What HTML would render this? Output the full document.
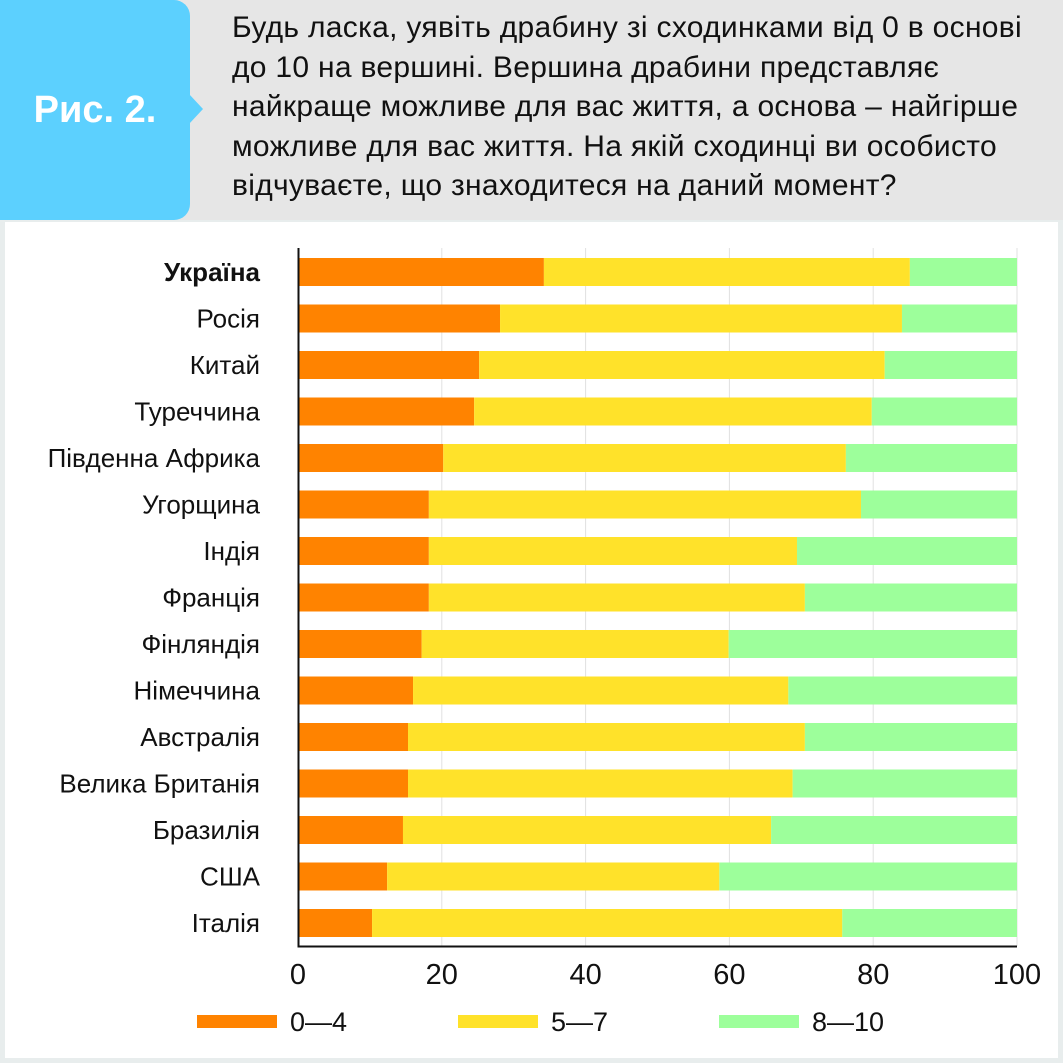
<!DOCTYPE html>
<html><head><meta charset="utf-8"><style>
body{margin:0;width:1063px;height:1063px;background:#e8eded;font-family:"Liberation Sans",sans-serif;position:relative;overflow:hidden}
#hdr{position:absolute;left:0;top:0;width:1063px;height:220px;background:#e6e6e6}
#fig{position:absolute;left:0;top:0;width:190px;height:220px;background:#5cd0fe;border-radius:0 16px 16px 0;color:#fff;font-weight:bold;font-size:38px;line-height:220px;text-align:center}
#tri{position:absolute;left:189px;top:94px;width:0;height:0;border-top:15px solid transparent;border-bottom:15px solid transparent;border-left:14px solid #5cd0fe}
#q{position:absolute;left:232px;top:8px;font-size:30px;line-height:39.5px;color:#111;white-space:nowrap;letter-spacing:0.3px}
#panel{position:absolute;left:5px;top:222px;width:1053px;height:836px;background:#fff}
</style></head><body>
<div id="hdr"></div>
<div id="fig">Рис. 2.</div>
<div id="tri"></div>
<div id="q">Будь ласка, уявіть драбину зі сходинками від 0 в основі<br>до 10 на вершині. Вершина драбини представляє<br>найкраще можливе для вас життя, а основа – найгірше<br>можливе для вас життя. На якій сходинці ви особисто<br>відчуваєте, що знаходитеся на даний момент?</div>
<div id="panel"></div>
<svg id="chart" width="1063" height="1063" style="position:absolute;left:0;top:0"></svg>
<script>
const categories=["Україна","Росія","Китай","Туреччина","Південна Африка","Угорщина","Індія","Франція","Фінляндія","Німеччина","Австралія","Велика Британія","Бразилія","США","Італія"];
const low=[34.2,28.1,25.2,24.5,20.2,18.2,18.2,18.2,17.2,16.0,15.3,15.3,14.6,12.4,10.3];
const mid=[50.9,55.9,56.4,55.3,56.0,60.1,51.2,52.3,42.7,52.2,55.2,53.5,51.2,46.2,65.4];
const high=[14.9,16.0,18.4,20.2,23.8,21.7,30.6,29.5,40.1,31.8,29.5,31.2,34.2,41.4,24.3];
const ticks=[0,20,40,60,80,100];
const seriesNames=["0—4","5—7","8—10"];
const colors=["#ff8300","#ffe22a","#9dff9b"];
const NS="http://www.w3.org/2000/svg";
const svg=document.getElementById('chart');
const x=v=>298+v*7.19;
const y=i=>258+i*46.5;
const bh=28;
function mk(t,a){const e=document.createElementNS(NS,t);for(const k in a)e.setAttribute(k,a[k]);svg.appendChild(e);return e;}
ticks.forEach(t=>{if(t>0){const g=mk('line',{x1:x(t),x2:x(t),y1:248,y2:946,stroke:'#e0e0e0','stroke-width':1});

}
const l=mk('text',{x:x(t),y:984,'text-anchor':'middle','font-size':29,fill:'#111'});l.textContent=t;

});
categories.forEach((c,i)=>{
const vals=[low[i],mid[i],high[i]];let acc=0;
vals.forEach((v,s)=>{const r=mk('rect',{x:x(acc),y:y(i),width:x(acc+v)-x(acc),height:bh,fill:colors[s]});

acc+=v;});
const t=mk('text',{x:260,y:y(i)+23,'text-anchor':'end','font-size':26,fill:'#111','font-weight':i==0?'bold':'normal'});t.textContent=c;

});
const ax=mk('path',{d:'M298.5 248V946.5H1017',stroke:'#111','stroke-width':2,fill:'none'});


seriesNames.forEach((n,s)=>{const lx=197+s*261;
const r=mk('rect',{x:lx,y:1015,width:80,height:13,fill:colors[s]});


const t=mk('text',{x:lx+93,y:1031,'font-size':27,fill:'#111'});t.textContent=n;

});
</script>
</body></html>
